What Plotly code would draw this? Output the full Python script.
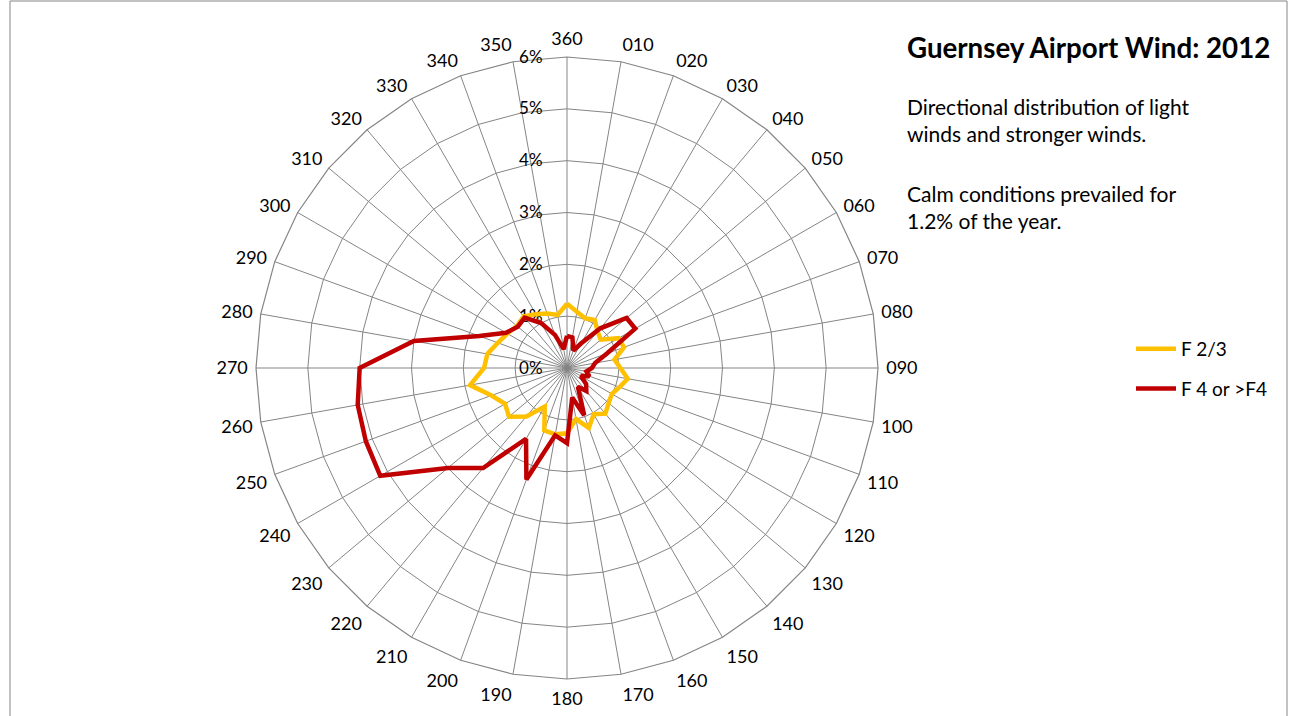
import plotly.graph_objects as go

directions = ["360"] + [f"{d:03d}" for d in range(10, 360, 10)]

f23 = [1.24, 1.10, 1.02, 1.07, 0.92, 0.85, 1.15, 1.17, 0.93, 1.03,
       1.19, 1.08, 1.00, 1.05, 1.15, 1.03, 1.23, 1.00, 1.26, 1.30,
       1.28, 0.86, 1.22, 1.46, 1.38, 1.55, 1.90, 1.60, 1.56, 1.42,
       1.33, 1.26, 1.30, 1.20, 1.12, 1.04]

f4 = [0.62, 0.60, 0.36, 0.55, 1.00, 1.50, 1.52, 0.82, 0.55, 0.48,
      0.38, 0.46, 0.31, 0.48, 0.58, 0.42, 0.97, 0.58, 1.45, 1.32,
      2.29, 1.58, 2.52, 3.00, 4.16, 4.13, 4.10, 4.00, 3.00, 1.80,
      1.36, 1.24, 1.27, 1.00, 0.68, 0.37]

radial_ticks = [0, 1, 2, 3, 4, 5, 6]
radial_ticktext = [f"{v}%" for v in radial_ticks]

FONT = "Lato"
W, H = 1289, 716
cx, cy, R = 567, 368, 311
GRID = "#858585"

fig = go.Figure()
fig.add_trace(go.Scatterpolar(
    r=f23 + f23[:1], theta=directions + directions[:1], mode="lines",
    name="F 2/3", line=dict(color="#FFC000", width=4.5), legendgroup="a"))
fig.add_trace(go.Scatterpolar(
    r=f4 + f4[:1], theta=directions + directions[:1], mode="lines",
    name="F 4 or >F4", line=dict(color="#C00000", width=4.5), legendgroup="b"))

fig.update_layout(
    width=W, height=H,
    margin=dict(l=0, r=0, t=0, b=0),
    paper_bgcolor="white", plot_bgcolor="white",
    font=dict(family=FONT, size=17, color="#000000"),
    polar=dict(
        domain=dict(x=[(cx - R) / W, (cx + R) / W], y=[(H - cy - R) / H, (H - cy + R) / H]),
        bgcolor="white",
        gridshape="linear",
        angularaxis=dict(
            type="category", categoryorder="array", categoryarray=directions,
            direction="clockwise", rotation=90,
            showline=True, linecolor=GRID, linewidth=1.2,
            gridcolor=GRID, gridwidth=1.2,
            ticks="outside", ticklen=4, tickcolor="rgba(0,0,0,0)",
            tickfont=dict(family=FONT, size=18, color="#000000"),
            layer="below traces",
        ),
        radialaxis=dict(
            range=[0, 6], tickvals=radial_ticks, ticktext=radial_ticktext,
            angle=90, tickangle=90, side="counterclockwise",
            showline=False, gridcolor=GRID, gridwidth=1.2,
            ticks="outside", ticklen=18, tickcolor="rgba(0,0,0,0)",
            tickfont=dict(family=FONT, size=17, color="#000000"),
            layer="below traces",
        ),
    ),
    showlegend=True,
    legend=dict(x=1131 / W, y=1 - 330 / H, xanchor="left", yanchor="top",
                font=dict(family=FONT, size=19), tracegroupgap=12,
                bgcolor="rgba(0,0,0,0)", itemwidth=40),
)

fig.add_annotation(x=905 / W, y=1 - 47 / H, xref="paper", yref="paper",
                   text="<b>Guernsey Airport Wind: 2012</b>", showarrow=False,
                   xanchor="left", yanchor="middle",
                   font=dict(family=FONT, size=27.7, color="#000000"))
fig.add_annotation(x=905 / W, y=1 - 120 / H, xref="paper", yref="paper",
                   text="Directional distribution of light<br>winds and stronger winds.",
                   showarrow=False, xanchor="left", yanchor="middle", align="left",
                   font=dict(family=FONT, size=21, color="#000000"))
fig.add_annotation(x=905 / W, y=1 - 207 / H, xref="paper", yref="paper",
                   text="Calm conditions prevailed for<br>1.2% of the year.",
                   showarrow=False, xanchor="left", yanchor="middle", align="left",
                   font=dict(family=FONT, size=21, color="#000000"))

fig.add_shape(type="rect", xref="paper", yref="paper",
              x0=10 / W, x1=1287 / W, y0=-0.01, y1=1 - 1 / H,
              line=dict(color=GRID, width=1))

fig.write_html("out.html", config={"displayModeBar": False},
               post_script="document.body.style.margin='0px';")
